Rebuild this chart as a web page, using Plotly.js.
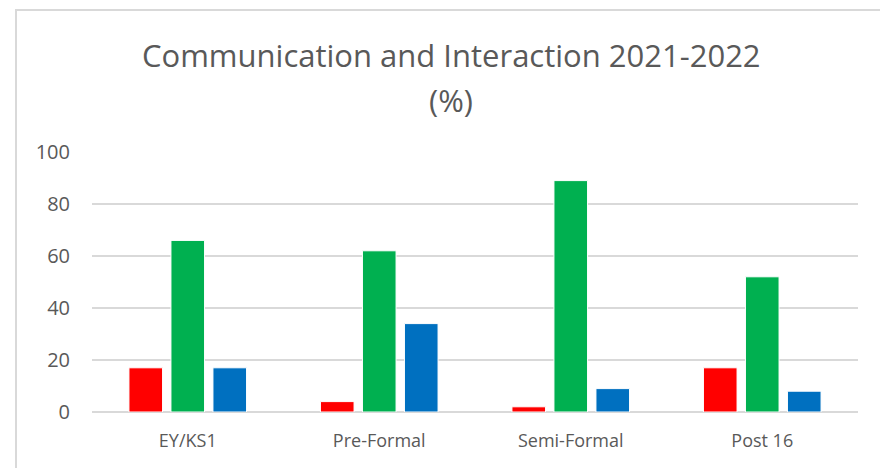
<!DOCTYPE html>
<html>
<head>
<meta charset="utf-8">
<script src="https://cdn.plot.ly/plotly-3.0.1.min.js"></script>
<style>
  html, body { margin: 0; padding: 0; background: #fff; }
  #wrap { position: relative; width: 880px; height: 468px; overflow: hidden; }
  #frame { position: absolute; left: 15px; top: 9px; width: 900px; height: 500px;
           border-left: 2px solid #d9d9d9; border-top: 2px solid #d9d9d9; pointer-events: none; }
  #chart { position: absolute; left: 0; top: 0; width: 880px; height: 468px; }
</style>
</head>
<body>
<div id="wrap">
  <div id="chart"></div>
  <div id="frame"></div>
</div>
<script>
const categories = ["EY/KS1", "Pre-Formal", "Semi-Formal", "Post 16"];
const seriesRed = [17, 4, 2, 17];
const seriesGreen = [66, 62, 89, 52];
const seriesBlue = [17, 34, 9, 8];
const yTicks = [0, 20, 40, 60, 80, 100];
const titleLine1 = "Communication and Interaction 2021-2022";
const titleLine2 = "(%)";

const font = "'Open Sans', 'Noto Sans', sans-serif";
const txt = "#595959";

function bar(vals, color, name) {
  return {
    type: "bar", x: categories, y: vals, name: name,
    marker: { color: color, line: { color: "#ffffff", width: 1 } },
    hoverinfo: "x+y"
  };
}

const data = [
  bar(seriesRed, "#ff0000", "Red"),
  bar(seriesGreen, "#00b050", "Green"),
  bar(seriesBlue, "#0070c0", "Blue")
];

const layout = {
  width: 880, height: 468,
  margin: { l: 92, r: 22, t: 152, b: 56 },
  paper_bgcolor: "rgba(0,0,0,0)", plot_bgcolor: "rgba(0,0,0,0)",
  showlegend: false,
  barmode: "group", bargap: 0.342, bargroupgap: 0.2,
  font: { family: font, color: txt },
  xaxis: {
    type: "category", showgrid: false, zeroline: false, showline: false,
    ticks: "", tickfont: { size: 18, color: txt, family: font },
    ticklabelstandoff: 16
  },
  yaxis: {
    range: [0, 100], tickvals: yTicks, ticktext: yTicks.map(String),
    showgrid: true, gridcolor: "#d9d9d9", gridwidth: 1.5,
    zeroline: true, zerolinecolor: "#d9d9d9", zerolinewidth: 1.5,
    showline: false, ticks: "",
    tickfont: { size: 20, color: txt, family: font },
    ticklabelstandoff: 21
  },
  annotations: [
    { text: titleLine1, xref: "paper", yref: "paper", x: 0.4687, y: 1.373,
      xanchor: "center", yanchor: "middle", showarrow: false,
      font: { size: 31, color: txt, family: font } },
    { text: titleLine2, xref: "paper", yref: "paper", x: 0.4687, y: 1.2,
      xanchor: "center", yanchor: "middle", showarrow: false,
      font: { size: 31, color: txt, family: font } }
  ]
};

Plotly.newPlot("chart", data, layout, { displayModeBar: false, staticPlot: true });
</script>
</body>
</html>
